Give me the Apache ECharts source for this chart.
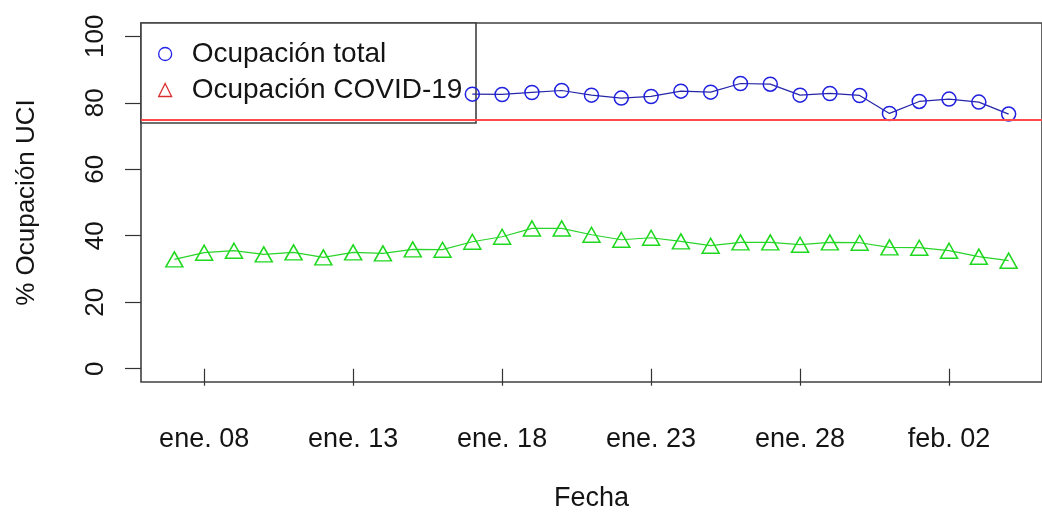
<!DOCTYPE html>
<html>
<head>
<meta charset="utf-8">
<script src="https://cdn.jsdelivr.net/npm/echarts@6/dist/echarts.min.js"></script>
<style>
html,body{margin:0;padding:0;background:#ffffff;}
#chart{width:1042px;height:517px;}
</style>
</head>
<body>
<div id="chart"></div>
<script>
// ---------- data ----------
const dates = [
  '2021-01-07','2021-01-08','2021-01-09','2021-01-10','2021-01-11','2021-01-12','2021-01-13',
  '2021-01-14','2021-01-15','2021-01-16','2021-01-17','2021-01-18','2021-01-19','2021-01-20',
  '2021-01-21','2021-01-22','2021-01-23','2021-01-24','2021-01-25','2021-01-26','2021-01-27',
  '2021-01-28','2021-01-29','2021-01-30','2021-01-31','2021-02-01','2021-02-02','2021-02-03',
  '2021-02-04'
];
// values before 17 Jan are hidden behind the legend box in the reference
const totalOccupancy = [
  null, null, null, null, null, null, null, null, null, null,
  82.6, 82.5, 83.1, 83.7, 82.3, 81.4, 81.9, 83.5, 83.2, 85.8,
  85.6, 82.3, 82.8, 82.2, 76.8, 80.4, 81.1, 80.2, 76.6
];
const covidOccupancy = [
  32.9, 34.9, 35.5, 34.4, 35.0, 33.5, 35.0, 34.7, 35.9, 35.8,
  38.2, 39.7, 42.2, 42.2, 40.3, 38.8, 39.4, 38.3, 37.0, 38.0,
  38.0, 37.3, 38.0, 37.9, 36.5, 36.4, 35.5, 33.7, 32.5
];
const thresholdLine = 75;
const tickDates = ['2021-01-08','2021-01-13','2021-01-18','2021-01-23','2021-01-28','2021-02-02'];
const tickLabels = ['ene. 08','ene. 13','ene. 18','ene. 23','ene. 28','feb. 02'];
const yTicks = [0, 20, 40, 60, 80, 100];
const seriesNames = ['Ocupación total', 'Ocupación COVID-19'];
const axisTitles = { x: 'Fecha', y: '% Ocupación UCI' };

// ---------- helpers ----------
function dayNum(s) {
  const p = s.split('-').map(Number);
  return Date.UTC(p[0], p[1] - 1, p[2]) / 86400000;
}
const xs = dates.map(dayNum);
const tickVals = tickDates.map(dayNum);
const span = xs[xs.length - 1] - xs[0];
const xMin = xs[0] - 0.04 * span;
const xMax = xs[xs.length - 1] + 0.04 * span;

const FONT = '"Liberation Sans", Arial, sans-serif';
const TXT = '#141414';
const FS = 26;

const chart = echarts.init(document.getElementById('chart'), null, { renderer: 'canvas' });
chart.setOption({
  animation: false,
  backgroundColor: '#ffffff',
  textStyle: { fontFamily: FONT },
  grid: {
    left: 141, right: -11, top: 23, bottom: 134,
    show: true, borderColor: '#404040', borderWidth: 1.6, backgroundColor: 'transparent'
  },
  xAxis: {
    type: 'value', min: xMin, max: xMax,
    axisLine: { show: false }, splitLine: { show: false },
    axisTick: { show: true, customValues: tickVals, length: 17, lineStyle: { color: '#333', width: 1.2 } },
    axisLabel: {
      customValues: tickVals,
      formatter: function (v) { const i = tickVals.indexOf(v); return i >= 0 ? tickLabels[i] : ''; },
      margin: 44, fontSize: 27, color: TXT, fontFamily: FONT
    },
    name: axisTitles.x, nameLocation: 'middle', nameGap: 103,
    nameTextStyle: { fontSize: 27, color: TXT, fontFamily: FONT }
  },
  yAxis: {
    type: 'value', min: -4, max: 104,
    axisLine: { show: false }, splitLine: { show: false },
    axisTick: { show: true, customValues: yTicks, length: 16, lineStyle: { color: '#333', width: 1.2 } },
    axisLabel: { customValues: yTicks, rotate: 90, margin: 32, fontSize: FS, color: TXT, fontFamily: FONT },
    name: axisTitles.y, nameLocation: 'middle', nameGap: 101, nameRotate: 90,
    nameTextStyle: { fontSize: FS, color: TXT, fontFamily: FONT }
  },
  legend: {
    left: 158, top: 40, orient: 'vertical', padding: 0,
    itemWidth: 13, itemHeight: 13, itemGap: 8, selectedMode: false, z: 4,
    symbolKeepAspect: true,
    textStyle: { fontSize: 28, lineHeight: 28, color: TXT, fontFamily: FONT, padding: [0, 0, 0, 15] },
    data: [
      { name: seriesNames[0], icon: 'circle', itemStyle: { color: 'transparent', borderColor: '#2222e6', borderWidth: 1.3 } },
      { name: seriesNames[1], icon: 'triangle', itemStyle: { color: 'transparent', borderColor: '#d83030', borderWidth: 1.3 } }
    ]
  },
  graphic: [
    { type: 'rect', z: 3, shape: { x: 141, y: 23, width: 335, height: 100 },
      style: { fill: '#ffffff', stroke: '#404040', lineWidth: 1.6 } }
  ],
  series: [
    {
      name: seriesNames[0], type: 'line',
      data: xs.map((x, i) => [x, totalOccupancy[i]]),
      symbol: 'circle', symbolSize: 14,
      itemStyle: { color: 'transparent', borderColor: '#2020e0', borderWidth: 1.5 },
      lineStyle: { color: '#2626a8', width: 1.2 },
      connectNulls: false, silent: true
    },
    {
      name: seriesNames[1], type: 'line',
      data: xs.map((x, i) => [x, covidOccupancy[i]]),
      symbol: 'triangle', symbolSize: [17, 15],
      itemStyle: { color: 'transparent', borderColor: '#1ed81e', borderWidth: 1.5 },
      lineStyle: { color: '#2ad42a', width: 1.2 },
      silent: true,
      markLine: {
        silent: true, symbol: ['none', 'none'], label: { show: false },
        lineStyle: { color: '#ff4848', width: 1.8, type: 'solid' },
        emphasis: { disabled: true },
        data: [{ yAxis: thresholdLine }]
      }
    }
  ]
});
</script>
</body>
</html>
